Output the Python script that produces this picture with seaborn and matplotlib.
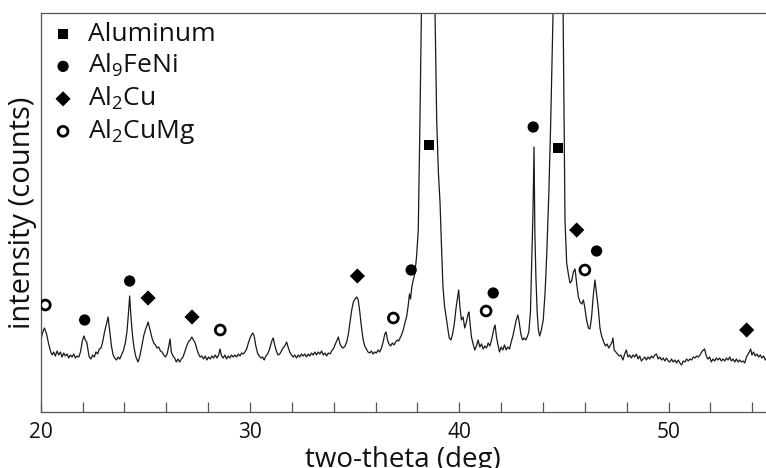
import matplotlib
matplotlib.use('Agg')
import matplotlib.pyplot as plt
import seaborn as sns
import pandas as pd
from matplotlib.ticker import MultipleLocator

# ---- XRD trace ----
two_theta = [
    20.00, 20.10, 20.18, 20.28, 20.38, 20.48, 20.55, 20.62, 20.70, 20.78,
    20.86, 20.94, 21.02, 21.10, 21.18, 21.26, 21.34, 21.42, 21.50, 21.58,
    21.66, 21.74, 21.82, 21.90, 22.00, 22.07, 22.13, 22.20, 22.26, 22.32,
    22.40, 22.48, 22.56, 22.64, 22.72, 22.80, 22.88, 22.96, 23.05, 23.14,
    23.22, 23.30, 23.38, 23.46, 23.54, 23.62, 23.70, 23.78, 23.86, 23.96,
    24.05, 24.12, 24.19, 24.25, 24.31, 24.38, 24.46, 24.55, 24.65, 24.74,
    24.83, 24.92, 25.00, 25.07, 25.13, 25.19, 25.25, 25.32, 25.40, 25.48,
    25.56, 25.64, 25.72, 25.80, 25.88, 25.96, 26.04, 26.12, 26.18, 26.24,
    26.32, 26.40, 26.48, 26.56, 26.64, 26.72, 26.80, 26.88, 26.96, 27.05,
    27.14, 27.22, 27.30, 27.38, 27.46, 27.54, 27.62, 27.70, 27.78, 27.86,
    27.94, 28.02, 28.10, 28.18, 28.26, 28.34, 28.42, 28.50, 28.57, 28.64,
    28.72, 28.80, 28.88, 28.96, 29.04, 29.12, 29.20, 29.28, 29.36, 29.44,
    29.52, 29.60, 29.68, 29.76, 29.84, 29.92, 30.00, 30.07, 30.13, 30.20,
    30.28, 30.36, 30.44, 30.52, 30.60, 30.68, 30.76, 30.84, 30.92, 31.00,
    31.06, 31.11, 31.18, 31.26, 31.34, 31.42, 31.50, 31.58, 31.66, 31.75,
    31.82, 31.90, 31.98, 32.06, 32.14, 32.22, 32.30, 32.38, 32.46, 32.54,
    32.62, 32.70, 32.78, 32.86, 32.94, 33.02, 33.10, 33.18, 33.26, 33.34,
    33.42, 33.50, 33.58, 33.66, 33.74, 33.82, 33.90, 33.98, 34.06, 34.14,
    34.22, 34.30, 34.38, 34.46, 34.54, 34.62, 34.70, 34.78, 34.86, 34.94,
    35.02, 35.10, 35.17, 35.24, 35.32, 35.40, 35.48, 35.56, 35.64, 35.72,
    35.80, 35.88, 35.96, 36.04, 36.12, 36.20, 36.28, 36.36, 36.44, 36.50,
    36.57, 36.64, 36.72, 36.80, 36.88, 36.96, 37.04, 37.10, 37.17, 37.24,
    37.32, 37.40, 37.48, 37.55, 37.62, 37.67, 37.73, 37.80, 37.88, 37.96,
    38.04, 38.12, 38.19, 38.30, 38.45, 38.60, 38.75, 38.84, 38.92, 39.00,
    39.08, 39.16, 39.22, 39.30, 39.38, 39.46, 39.52, 39.60, 39.68, 39.76,
    39.85, 39.93, 39.97, 40.03, 40.10, 40.18, 40.26, 40.34, 40.42, 40.46,
    40.52, 40.58, 40.66, 40.74, 40.82, 40.90, 40.98, 41.06, 41.14, 41.22,
    41.30, 41.38, 41.46, 41.54, 41.60, 41.66, 41.71, 41.77, 41.84, 41.92,
    42.00, 42.08, 42.16, 42.24, 42.32, 42.40, 42.48, 42.56, 42.64, 42.72,
    42.80, 42.86, 42.94, 43.02, 43.10, 43.18, 43.26, 43.32, 43.40, 43.46,
    43.52, 43.57, 43.61, 43.66, 43.72, 43.78, 43.84, 43.92, 44.01, 44.10,
    44.18, 44.28, 44.37, 44.48, 44.60, 44.72, 44.85, 44.96, 45.05, 45.13,
    45.21, 45.29, 45.37, 45.45, 45.53, 45.61, 45.69, 45.77, 45.85, 45.93,
    46.00, 46.08, 46.17, 46.24, 46.32, 46.40, 46.48, 46.56, 46.64, 46.72,
    46.80, 46.90, 46.98, 47.06, 47.14, 47.22, 47.30, 47.34, 47.40, 47.48,
    47.56, 47.64, 47.72, 47.82, 47.90, 47.98, 48.06, 48.14, 48.22, 48.30,
    48.38, 48.46, 48.54, 48.62, 48.70, 48.78, 48.86, 48.94, 49.02, 49.10,
    49.18, 49.26, 49.34, 49.42, 49.50, 49.58, 49.66, 49.74, 49.82, 49.90,
    49.98, 50.06, 50.14, 50.22, 50.30, 50.38, 50.46, 50.54, 50.62, 50.70,
    50.78, 50.86, 50.94, 51.02, 51.10, 51.18, 51.26, 51.34, 51.42, 51.50,
    51.58, 51.66, 51.72, 51.80, 51.88, 51.96, 52.04, 52.12, 52.20, 52.28,
    52.36, 52.44, 52.52, 52.60, 52.68, 52.76, 52.84, 52.92, 53.00, 53.08,
    53.16, 53.24, 53.32, 53.40, 53.48, 53.56, 53.64, 53.72, 53.80, 53.88,
    53.92, 53.98, 54.06, 54.14, 54.22, 54.30, 54.38, 54.46, 54.54, 54.62,
    54.70,
]
intensity = [
    72, 80, 84, 78, 68, 60, 57, 60, 56, 61,
    57, 60, 55, 59, 56, 58, 54, 57, 55, 58,
    54, 56, 55, 60, 72, 76, 72, 70, 62, 55,
    53, 57, 55, 60, 58, 63, 64, 70, 80, 88,
    95, 80, 66, 57, 54, 52, 55, 53, 57, 62,
    70, 80, 98, 116, 96, 78, 64, 55, 50, 56,
    66, 76, 82, 86, 90, 85, 80, 74, 69, 67,
    64, 65, 61, 60, 57, 55, 58, 66, 73, 60,
    56, 54, 50, 53, 50, 53, 55, 60, 65, 70,
    72, 75, 72, 69, 63, 58, 55, 56, 53, 56,
    52, 55, 53, 56, 54, 57, 54, 57, 63, 56,
    54, 57, 53, 56, 54, 57, 55, 57, 55, 58,
    56, 59, 58, 60, 63, 69, 74, 77, 79, 76,
    66, 59, 56, 54, 55, 52, 56, 58, 62, 68,
    72, 74, 67, 61, 57, 58, 61, 64, 66, 70,
    65, 60, 57, 55, 57, 54, 57, 55, 58, 56,
    58, 55, 58, 56, 59, 57, 60, 57, 60, 58,
    61, 57, 59, 56, 59, 58, 61, 63, 67, 71,
    75, 68, 65, 64, 66, 70, 78, 90, 102, 110,
    113, 115, 112, 101, 86, 73, 66, 63, 60, 59,
    61, 58, 60, 59, 62, 60, 64, 70, 78, 80,
    72, 68, 66, 69, 67, 70, 72, 71, 74, 77,
    82, 89, 95, 105, 118, 113, 125, 132, 139, 156,
    182, 292, 400, 900, 2000, 1500, 700, 400, 292, 240,
    209, 159, 125, 105, 94, 82, 74, 72, 78, 88,
    105, 116, 122, 105, 92, 95, 84, 90, 98, 100,
    88, 75, 68, 62, 66, 72, 65, 68, 63, 66,
    64, 69, 66, 72, 78, 84, 87, 76, 68, 60,
    65, 62, 67, 62, 65, 63, 70, 76, 84, 92,
    97, 90, 78, 72, 74, 72, 76, 80, 100, 149,
    200, 265, 180, 135, 100, 82, 76, 82, 92, 120,
    159, 220, 292, 400, 1200, 1600, 1000, 400, 192, 149,
    138, 129, 131, 140, 143, 128, 115, 110, 108, 112,
    104, 92, 84, 83, 95, 116, 132, 118, 104, 84,
    76, 70, 66, 68, 64, 67, 70, 74, 62, 60,
    58, 56, 57, 52, 58, 62, 55, 57, 54, 57,
    55, 58, 53, 56, 51, 53, 55, 52, 55, 53,
    56, 54, 57, 58, 53, 55, 52, 54, 51, 54,
    51, 50, 53, 50, 52, 49, 52, 49, 47, 51,
    50, 53, 51, 53, 52, 55, 54, 56, 55, 57,
    60, 62, 63, 56, 53, 55, 50, 53, 51, 54,
    52, 54, 51, 53, 51, 54, 52, 55, 51, 53,
    50, 53, 50, 52, 50, 51, 49, 55, 58, 61,
    63, 57, 60, 56, 58, 55, 57, 54, 56, 52,
    54,
]

# ---- phase markers ----
aluminum_x = [38.55, 44.72]
aluminum_y = [267, 264]
al9feni_x = [22.10, 24.25, 37.70, 41.62, 43.53, 46.56]
al9feni_y = [92, 131, 142, 119, 285, 161]
al2cu_x = [25.13, 27.23, 35.13, 45.61, 53.73]
al2cu_y = [114, 95, 136, 182, 82]
al2cumg_x = [20.22, 28.58, 36.85, 41.28, 46.00]
al2cumg_y = [107, 82, 94, 101, 142]

phase_labels = ['Aluminum', r'Al$_{9}$FeNi', r'Al$_{2}$Cu', r'Al$_{2}$CuMg']
x_ticks = [20, 30, 40, 50]

sns.set_style('white')
plt.rcParams['font.family'] = ['Open Sans', 'DejaVu Sans']
plt.rcParams['mathtext.fontset'] = 'custom'
plt.rcParams['mathtext.rm'] = 'Open Sans'
plt.rcParams['mathtext.default'] = 'regular'

fig = plt.figure(figsize=(7.66, 4.68), dpi=100)
ax = fig.add_axes([40.7 / 766, 56 / 468, (766 - 40.7) / 766, 399 / 468])

df = pd.DataFrame({'two_theta': two_theta, 'intensity': intensity})
sns.lineplot(data=df, x='two_theta', y='intensity', ax=ax, color='#1a1a1a',
             lw=0.9, estimator=None, sort=False)

sns.scatterplot(x=aluminum_x, y=aluminum_y, ax=ax, marker='s', s=55,
                color='black', edgecolor='none', linewidth=0, label=phase_labels[0], zorder=3)
sns.scatterplot(x=al9feni_x, y=al9feni_y, ax=ax, marker='o', s=66,
                color='black', edgecolor='none', linewidth=0, label=phase_labels[1], zorder=3)
sns.scatterplot(x=al2cu_x, y=al2cu_y, ax=ax, marker='D', s=60,
                color='black', edgecolor='none', linewidth=0, label=phase_labels[2], zorder=3)
sns.scatterplot(x=al2cumg_x, y=al2cumg_y, ax=ax, marker='o', s=50,
                facecolor='none', edgecolor='black', linewidth=2.0, label=phase_labels[3], zorder=3)

ax.set_xlim(20, 20 + (766 - 40.7) / 20.93)
ax.set_ylim(0, 399)
ax.set_xticks(x_ticks)
ax.xaxis.set_minor_locator(MultipleLocator(2))
ax.set_yticks([])
ax.tick_params(axis='x', which='both', direction='in', length=7, width=0.9,
               color='#555555', bottom=True, top=False, labelsize=15, pad=7,
               labelcolor='#111111')

for side in ['left', 'bottom', 'top']:
    ax.spines[side].set_visible(True)
    ax.spines[side].set_color('#555555')
    ax.spines[side].set_linewidth(0.9)
ax.spines['right'].set_visible(False)

ax.set_xlabel('two-theta (deg)', fontsize=20, color='#111111', labelpad=2)
ax.set_ylabel('intensity (counts)', fontsize=21, color='#111111', labelpad=3)

leg = ax.legend(loc='upper left', bbox_to_anchor=((52.5 - 40.7) / 725.3, (412 - 22) / 399),
                frameon=False, fontsize=19, handlelength=0.8, handletextpad=0.55,
                labelspacing=0.2, borderpad=0, borderaxespad=0)
for t in leg.get_texts():
    t.set_color('#111111')

fig.savefig('out.png', dpi=100)
